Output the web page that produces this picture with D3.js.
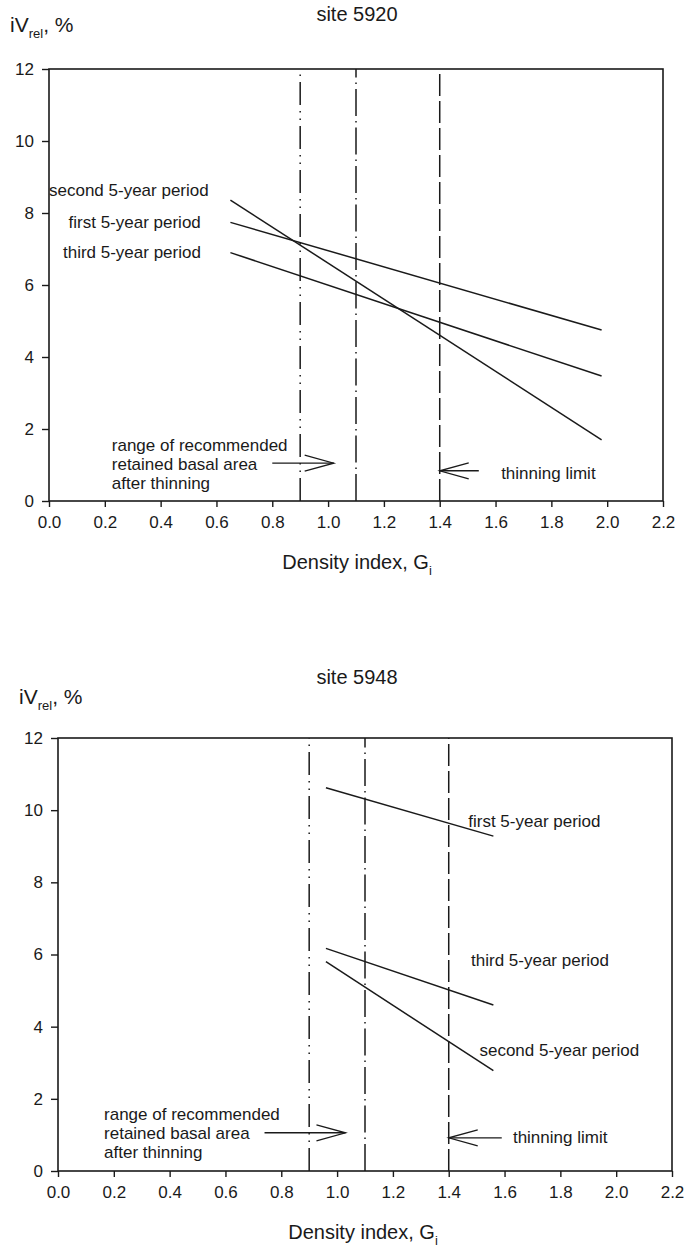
<!DOCTYPE html>
<html>
<head>
<meta charset="utf-8">
<script src="https://cdn.jsdelivr.net/npm/d3@7"></script>
<style>
  html, body { margin: 0; padding: 0; background: #fff; }
  svg text { font-family: "Liberation Sans", Arial, Helvetica, sans-serif; fill: #1a1a1a; }
</style>
</head>
<body>
<svg id="chart" width="687" height="1247"></svg>
<script>
// ---------- data ----------
const xTickValues = [0.0, 0.2, 0.4, 0.6, 0.8, 1.0, 1.2, 1.4, 1.6, 1.8, 2.0, 2.2];
const yTickValues = [0, 2, 4, 6, 8, 10, 12];
const xDomain = [0, 2.2];
const yDomain = [0, 12];

const seriesNames = ["first 5-year period", "second 5-year period", "third 5-year period"];

// site 5920: [density index, iV_rel %]
const site5920First  = [[0.65, 7.74], [1.98, 4.75]];
const site5920Second = [[0.65, 8.36], [1.98, 1.70]];
const site5920Third  = [[0.65, 6.90], [1.98, 3.47]];

// site 5948
const site5948First  = [[0.96, 10.62], [1.56, 9.28]];
const site5948Second = [[0.96, 5.80], [1.56, 2.78]];
const site5948Third  = [[0.96, 6.17], [1.56, 4.60]];

// reference lines (density index)
const retainedRange = [0.9, 1.1];
const thinningLimit = 1.4;

// ---------- drawing ----------
const svg = d3.select("#chart");
const INK = "#1a1a1a";

function drawPanel(cfg) {
  const g = svg.append("g");
  const x = d3.scaleLinear().domain(xDomain).range([cfg.left, cfg.right]);
  const y = d3.scaleLinear().domain(yDomain).range([cfg.bottom, cfg.top]);

  // title
  g.append("text").attr("x", cfg.titleX).attr("y", cfg.titleY)
    .attr("text-anchor", "middle").attr("font-size", 20).text(cfg.title);

  // y-axis label iV_rel, %
  const yl = g.append("text").attr("x", cfg.left - 39).attr("y", cfg.yLabelY).attr("font-size", 21);
  yl.append("tspan").text("iV");
  yl.append("tspan").attr("font-size", 13).attr("dy", 6).text("rel");
  yl.append("tspan").attr("dy", -6).text(", %");

  // axes
  const xAxis = d3.axisBottom(x).tickValues(xTickValues).tickFormat(d3.format(".1f"))
    .tickSize(6).tickSizeOuter(0).tickPadding(9);
  const yAxis = d3.axisLeft(y).tickValues(yTickValues).tickFormat(d3.format("d"))
    .tickSize(7).tickSizeOuter(0).tickPadding(8);

  const gx = g.append("g").attr("transform", `translate(0,${cfg.bottom})`).call(xAxis);
  const gy = g.append("g").attr("transform", `translate(${cfg.left},0)`).call(yAxis);
  [gx, gy].forEach(a => {
    a.select(".domain").remove();
    a.selectAll(".tick line").attr("stroke", INK).attr("stroke-width", 1.4);
    a.selectAll(".tick text").attr("font-size", 17).attr("fill", INK)
      .style("font-family", '"Liberation Sans", Arial, sans-serif');
  });

  // frame
  g.append("rect").attr("x", x(xDomain[0])).attr("y", y(yDomain[1]))
    .attr("width", x(xDomain[1]) - x(xDomain[0])).attr("height", y(yDomain[0]) - y(yDomain[1]))
    .attr("fill", "none").attr("stroke", INK).attr("stroke-width", 1.6);

  // x axis title
  const xt = g.append("text").attr("x", cfg.xTitleX).attr("y", cfg.bottom + 68)
    .attr("text-anchor", "middle").attr("font-size", 20);
  xt.append("tspan").text("Density index, G");
  xt.append("tspan").attr("font-size", 13).attr("dy", 6).text("i");

  // vertical reference lines
  const refs = [
    { v: retainedRange[0], dash: "23,6,1.5,6,1.5,6" },
    { v: retainedRange[1], dash: "27,5,1.5,5" },
    { v: thinningLimit,    dash: "22,5" }
  ];
  g.selectAll(".ref").data(refs).enter().append("line")
    .attr("x1", d => x(d.v)).attr("x2", d => x(d.v))
    .attr("y1", y(yDomain[0])).attr("y2", y(yDomain[1]))
    .attr("stroke", INK).attr("stroke-width", 1.5)
    .attr("stroke-dasharray", d => d.dash);

  // series lines
  const line = d3.line().x(d => x(d[0])).y(d => y(d[1]));
  g.selectAll(".series").data(cfg.series).enter().append("path")
    .attr("d", d => line(d)).attr("fill", "none")
    .attr("stroke", INK).attr("stroke-width", 1.5);

  // series labels
  cfg.labels.forEach(l => {
    g.append("text").attr("x", x(l.x)).attr("y", y(l.y) + 6)
      .attr("font-size", 17).text(l.text);
  });

  // annotation: retained range
  const a = cfg.range;
  ["range of recommended", "retained basal area", "after thinning"].forEach((t, i) => {
    g.append("text").attr("x", x(a.textX)).attr("y", y(a.textY) + 6 + i * 19)
      .attr("font-size", 17).text(t);
  });
  arrow(g, x(a.fromX), y(a.arrowY), x(a.toX), y(a.arrowY));

  // annotation: thinning limit
  const t = cfg.thin;
  arrow(g, x(t.fromX), y(t.arrowY), x(thinningLimit), y(t.arrowY));
  g.append("text").attr("x", x(t.textX)).attr("y", y(t.textY) + 6)
    .attr("font-size", 17).text("thinning limit");
}

function arrow(g, x1, y1, x2, y2) {
  const dir = Math.sign(x2 - x1);
  g.append("line").attr("x1", x1).attr("y1", y1).attr("x2", x2).attr("y2", y2)
    .attr("stroke", INK).attr("stroke-width", 1.3);
  g.append("path")
    .attr("d", `M${x2 - dir * 29},${y2 - 8} L${x2},${y2} L${x2 - dir * 29},${y2 + 8}`)
    .attr("fill", "none").attr("stroke", INK).attr("stroke-width", 1.3);
}

drawPanel({
  title: "site 5920", titleX: 357, titleY: 21, yLabelY: 32,
  left: 49, right: 663, top: 69, bottom: 501, xTitleX: 357,
  series: [site5920First, site5920Second, site5920Third],
  labels: [
    { text: seriesNames[1], x: 0.0, y: 8.65 },
    { text: seriesNames[0], x: 0.07, y: 7.74 },
    { text: seriesNames[2], x: 0.05, y: 6.93 }
  ],
  range: { textX: 0.225, textY: 1.55, fromX: 0.80, toX: 1.02, arrowY: 1.05 },
  thin: { fromX: 1.54, arrowY: 0.84, textX: 1.62, textY: 0.78 }
});

drawPanel({
  title: "site 5948", titleX: 357, titleY: 684, yLabelY: 704,
  left: 58, right: 672, top: 738, bottom: 1171, xTitleX: 363,
  series: [site5948First, site5948Second, site5948Third],
  labels: [
    { text: seriesNames[0], x: 1.47, y: 9.7 },
    { text: seriesNames[2], x: 1.48, y: 5.85 },
    { text: seriesNames[1], x: 1.51, y: 3.35 }
  ],
  range: { textX: 0.165, textY: 1.58, fromX: 0.74, toX: 1.03, arrowY: 1.06 },
  thin: { fromX: 1.59, arrowY: 0.92, textX: 1.63, textY: 0.94 }
});
</script>
</body>
</html>
